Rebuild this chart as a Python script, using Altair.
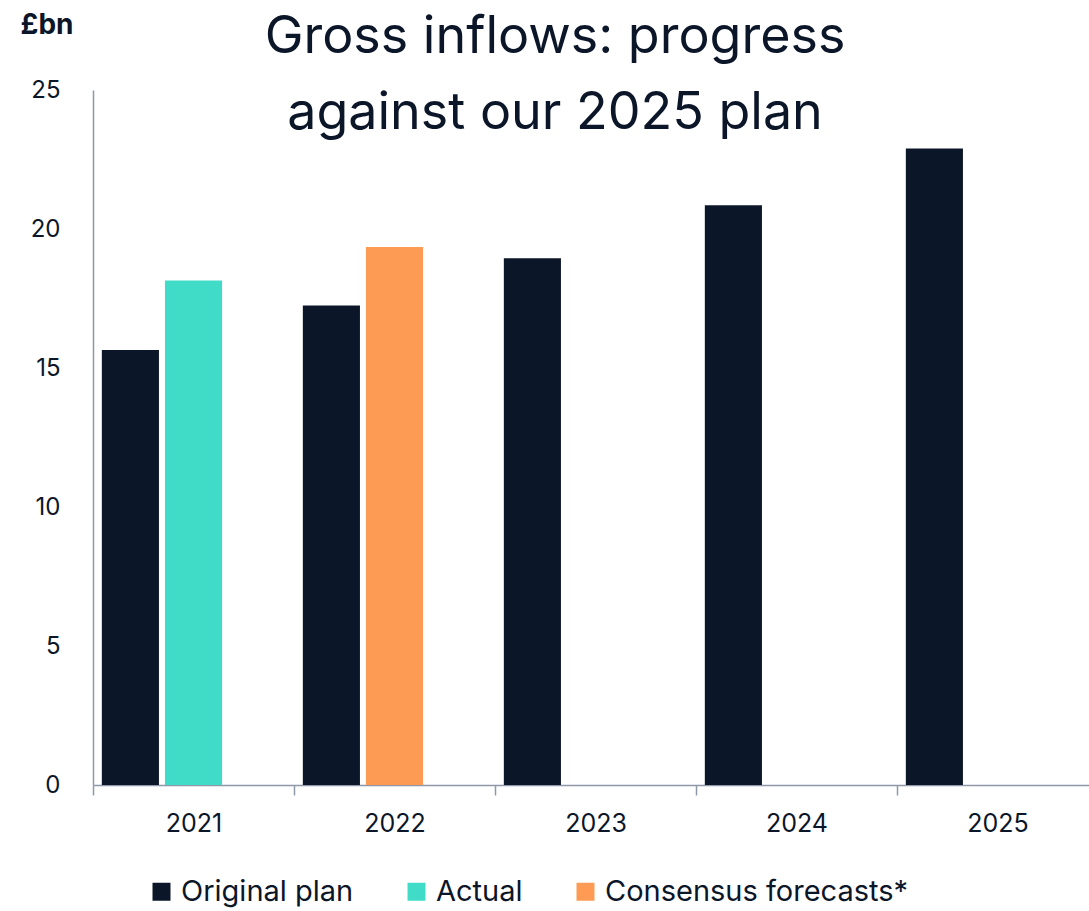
import altair as alt
import pandas as pd

years = ["2021", "2022", "2023", "2024", "2025"]
original_plan = [15.65, 17.25, 18.95, 20.85, 22.9]
actual_years = ["2021"]
actual_values = [18.15]
consensus_years = ["2022"]
consensus_values = [19.35]

series_names = ["Original plan", "Actual", "Consensus forecasts*"]
series_colors = ["#0c1629", "#41dcc8", "#fd9b55"]

rows = []
for y, v in zip(years, original_plan):
    rows.append({"year": y, "value": v, "series": "Original plan", "slot": "a"})
for y, v in zip(actual_years, actual_values):
    rows.append({"year": y, "value": v, "series": "Actual", "slot": "b"})
for y, v in zip(consensus_years, consensus_values):
    rows.append({"year": y, "value": v, "series": "Consensus forecasts*", "slot": "b"})
df = pd.DataFrame(rows)

FONT = "Inter"
TXT = "#0c1629"
AX = "#8e98a8"

chart = (
    alt.Chart(df)
    .mark_bar()
    .encode(
        x=alt.X(
            "year:N",
            sort=years,
            scale=alt.Scale(paddingInner=0, paddingOuter=0, range=[0, 1005]),
            axis=alt.Axis(
                title=None,
                labelAngle=0,
                labelFontSize=25,
                labelFont=FONT,
                labelColor=TXT,
                labelPadding=16,
                tickBand="extent",
                tickSize=10,
                tickColor=AX,
                domainColor=AX,
                domainWidth=1.5,
                tickWidth=1.5,
            ),
        ),
        xOffset=alt.XOffset(
            "slot:N",
            scale=alt.Scale(domain=["a", "b", "c"], paddingInner=0.095, paddingOuter=0.14),
        ),
        y=alt.Y(
            "value:Q",
            scale=alt.Scale(domain=[0, 25], nice=False),
            axis=alt.Axis(
                title="£bn",
                titleAngle=0,
                titleAlign="left",
                titleBaseline="top",
                titleX=-73,
                titleY=-79,
                titleFontSize=28,
                titleFont=FONT,
                titleFontWeight="bold",
                titleColor=TXT,
                values=[0, 5, 10, 15, 20, 25],
                labelFontSize=24,
                labelFont=FONT,
                labelColor=TXT,
                labelPadding=33,
                ticks=False,
                grid=False,
                domainColor=AX,
                domainWidth=1.5,
            ),
        ),
        color=alt.Color(
            "series:N",
            scale=alt.Scale(domain=series_names, range=series_colors),
            legend=alt.Legend(
                title=None,
                orient="none",
                direction="horizontal",
                legendX=54,
                legendY=787,
                symbolType="square",
                symbolSize=324,
                symbolStrokeWidth=0,
                labelFontSize=29,
                labelFont=FONT,
                labelColor=TXT,
                labelOffset=5,
                columnPadding=48,
                labelLimit=400,
            ),
        ),
    )
    .properties(
        width=996,
        height=695,
        padding={"left": 93, "top": 90, "right": 0, "bottom": 126},
        autosize=alt.AutoSizeParams(type="none"),
        title=alt.TitleParams(
            text=["Gross inflows: progress", "against our 2025 plan"],
            fontSize=52,
            font=FONT,
            fontWeight="normal",
            color=TXT,
            anchor="middle",
            frame="group",
            dx=-36,
            lineHeight=76,
            offset=-129,
        ),
    )
    .configure_view(stroke=None)
)

chart.save("out.html", embed_options={"renderer": "svg", "actions": False})
